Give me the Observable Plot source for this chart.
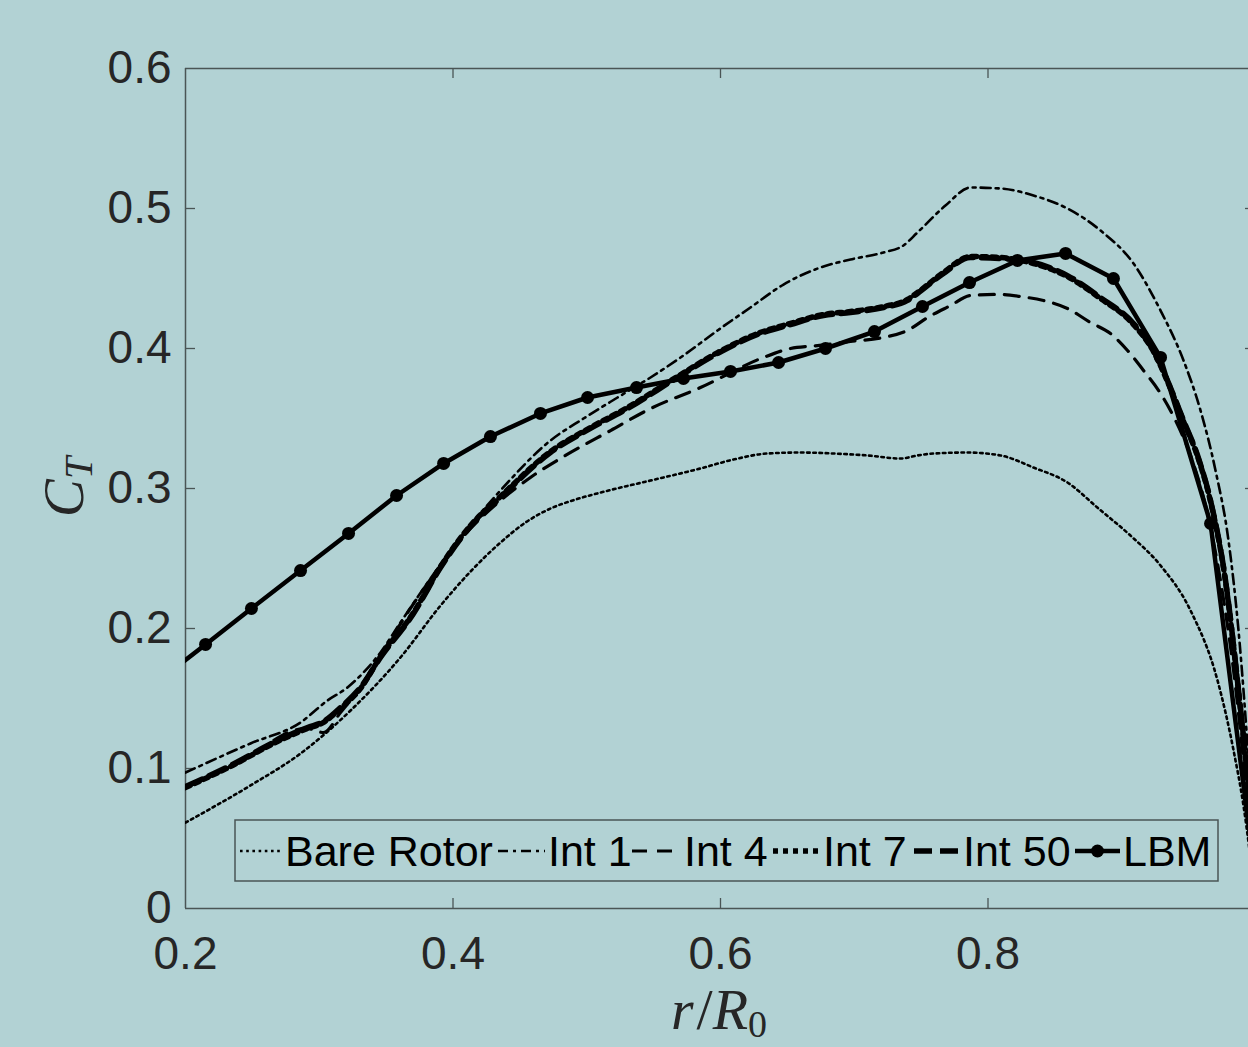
<!DOCTYPE html>
<html><head><meta charset="utf-8">
<script src="https://cdn.jsdelivr.net/npm/d3@7"></script>
<script src="https://cdn.jsdelivr.net/npm/@observablehq/plot@0.6"></script>
<style>
html,body{margin:0;padding:0;background:#b2d2d4;overflow:hidden}
#chart svg{display:block;overflow:hidden}
</style></head><body><div id="chart"></div>
<script>
// ---- data ----
const xTicks = [0.2, 0.4, 0.6, 0.8];
const yTicks = [0, 0.1, 0.2, 0.3, 0.4, 0.5, 0.6];
const seriesNames = ["Bare Rotor", "Int 1", "Int 4", "Int 7", "Int 50", "LBM"];

const bareR  = [0.2,0.2486,0.286,0.3234,0.3607,0.3907,0.4131,0.4355,0.4542,0.4729,0.4916,0.5103,0.5477,0.585,0.6097,0.6351,0.6598,0.6845,0.7099,0.7346,0.7473,0.7593,0.7847,0.8093,0.834,0.8594,0.8826,0.9065,0.929,0.9514,0.9716,0.9836,0.991,1.0];
const bareCT = [0.0614,0.0879,0.1107,0.1414,0.1793,0.2164,0.2407,0.2614,0.2757,0.2857,0.2921,0.2971,0.3057,0.3143,0.3207,0.325,0.3257,0.325,0.3236,0.3214,0.3236,0.325,0.3257,0.3236,0.315,0.3043,0.2857,0.2664,0.245,0.2129,0.1629,0.1129,0.0736,0.006];

const int1R  = [0.2,0.2486,0.286,0.3062,0.3211,0.3331,0.3458,0.3607,0.3832,0.4056,0.4355,0.4729,0.4976,0.523,0.5477,0.5723,0.5978,0.6224,0.6471,0.6725,0.6972,0.7219,0.7368,0.7473,0.7682,0.7869,0.8093,0.834,0.8594,0.8841,0.9088,0.929,0.9462,0.9589,0.9701,0.9798,0.9873,0.9948,1.0];
const int1CT = [0.0971,0.1179,0.1329,0.1486,0.1579,0.1686,0.1829,0.2043,0.2357,0.265,0.2986,0.3343,0.35,0.365,0.3793,0.395,0.4129,0.4293,0.4457,0.4571,0.4636,0.4686,0.4736,0.4829,0.5021,0.515,0.5143,0.5093,0.5,0.4843,0.4607,0.4271,0.3914,0.3557,0.3129,0.2629,0.1986,0.1057,0.027];

const int4R  = [0.2,0.2486,0.2785,0.2905,0.3032,0.3159,0.3308,0.3458,0.3682,0.3907,0.4131,0.4355,0.4579,0.4841,0.5178,0.5477,0.585,0.6321,0.6523,0.6725,0.6972,0.7219,0.7398,0.7548,0.772,0.7869,0.8071,0.8243,0.8415,0.8594,0.8766,0.8916,0.9043,0.9163,0.929,0.9402,0.9514,0.9626,0.9738,0.9836,0.9918,1.0];
const int4CT = [0.0871,0.1086,0.1264,0.1286,0.1257,0.14,0.1579,0.1807,0.2143,0.245,0.2714,0.2914,0.3079,0.3236,0.3414,0.3571,0.3721,0.3936,0.4,0.4021,0.405,0.4079,0.4129,0.4221,0.4307,0.4379,0.4386,0.4371,0.4343,0.4286,0.4186,0.4107,0.3986,0.3843,0.3679,0.3486,0.3236,0.2879,0.2343,0.17,0.0986,0.02];

const int7R  = [0.2,0.2336,0.2688,0.2912,0.3032,0.3159,0.3308,0.3458,0.3705,0.3907,0.4131,0.4355,0.4729,0.5028,0.5305,0.5678,0.5978,0.6277,0.6523,0.677,0.6972,0.7219,0.7398,0.7473,0.7667,0.7869,0.8093,0.834,0.8594,0.8841,0.9088,0.9237,0.9364,0.9462,0.9567,0.9664,0.9776,0.9865,0.9948,1.0];
const int7CT = [0.0864,0.1014,0.1193,0.1286,0.1329,0.1429,0.1571,0.18,0.2114,0.2443,0.2736,0.2943,0.3264,0.3436,0.3579,0.38,0.3971,0.4107,0.4179,0.4243,0.4264,0.43,0.435,0.44,0.4543,0.4657,0.465,0.4607,0.4514,0.4357,0.4171,0.3979,0.3714,0.3479,0.3229,0.2907,0.2336,0.1621,0.0836,0.02];

const int50R  = [0.2,0.2336,0.2688,0.2912,0.3032,0.3159,0.3308,0.3458,0.3705,0.3907,0.4131,0.4355,0.4729,0.5028,0.5305,0.5678,0.5978,0.6277,0.6523,0.677,0.6972,0.7219,0.7398,0.7473,0.7667,0.7869,0.8093,0.834,0.8594,0.8841,0.9088,0.9237,0.9364,0.9462,0.9567,0.9664,0.9776,0.9865,0.9948,1.0];
const int50CT = [0.0871,0.1021,0.12,0.1293,0.1336,0.1436,0.1579,0.1793,0.2107,0.2436,0.2729,0.2936,0.3257,0.3429,0.3571,0.3793,0.3964,0.41,0.4171,0.4236,0.4257,0.4293,0.4343,0.4393,0.4536,0.465,0.4643,0.4614,0.4521,0.4364,0.4179,0.3986,0.3721,0.3486,0.3236,0.2914,0.2343,0.1629,0.0843,0.02];

const lbmR  = [0.179,0.215,0.2493,0.286,0.3219,0.3578,0.393,0.428,0.4654,0.5006,0.5372,0.5723,0.6075,0.6434,0.6785,0.7151,0.751,0.7862,0.822,0.858,0.8938,0.929,0.9664,1.0];
const lbmCT = [0.162,0.1886,0.2143,0.2414,0.2679,0.295,0.3179,0.3371,0.3536,0.365,0.3721,0.3786,0.3836,0.39,0.4,0.4121,0.43,0.4471,0.4629,0.4679,0.45,0.3936,0.275,0.02];

// ---- styles ----
const bg = "#b2d2d4";
const axisColor = "#4a5555";
const labelColor = "#262626";
const styles = {
  "Bare Rotor": {strokeWidth: 2.6, dash: "2.6,3.6", curve: "monotone-x"},
  "Int 1":      {strokeWidth: 2.6, dash: "10,5,3,5", curve: "monotone-x"},
  "Int 4":      {strokeWidth: 3.2, dash: "15,10", curve: "monotone-x"},
  "Int 7":      {strokeWidth: 5.5, dash: "5,5", curve: "monotone-x"},
  "Int 50":     {strokeWidth: 5.5, dash: "18,8", curve: "monotone-x"},
  "LBM":        {strokeWidth: 4.5, dash: null, curve: "linear"}
};

const zip = (name, R, CT) => R.map((r, i) => ({series: name, r, ct: CT[i]}));
const seriesData = {
  "Bare Rotor": zip("Bare Rotor", bareR, bareCT),
  "Int 1": zip("Int 1", int1R, int1CT),
  "Int 4": zip("Int 4", int4R, int4CT),
  "Int 7": zip("Int 7", int7R, int7CT),
  "Int 50": zip("Int 50", int50R, int50CT),
  "LBM": zip("LBM", lbmR, lbmCT)
};

const W = 1248, H = 1047;
const mL = 185, mT = 68, mB = 139, mR = 0;
// visible x extent: the reference is cropped just before r/R0 = 1
const xMax = 0.2 + (W - mL) / 1337.5;
const tickLenX = 10 / 1337.5, tickLenY = 10 / 1400;
const fmt = d => d === 0 ? "0" : d.toFixed(1);

const lineMarks = seriesNames.map(n => Plot.line(seriesData[n], {
  x: "r", y: "ct", stroke: "black",
  strokeWidth: styles[n].strokeWidth,
  strokeDasharray: styles[n].dash || undefined,
  curve: styles[n].curve,
  strokeLinejoin: "round",
  clip: true
}));

const chart = Plot.plot({
  width: W, height: H,
  marginLeft: mL, marginRight: mR, marginTop: mT, marginBottom: mB,
  style: {background: "transparent", fontFamily: "'Liberation Sans', Arial, Helvetica, sans-serif", color: labelColor, overflow: "hidden"},
  x: {domain: [0.2, xMax]},
  y: {domain: [0, 0.6]},
  marks: [
    Plot.ruleX([0.2], {stroke: axisColor, strokeWidth: 1.5}),
    Plot.ruleY([0, 0.6], {stroke: axisColor, strokeWidth: 1.5}),
    Plot.ruleX(xTicks.slice(1), {x: d => d, y1: 0, y2: tickLenY, stroke: axisColor, strokeWidth: 1.3}),
    Plot.ruleX(xTicks.slice(1), {x: d => d, y1: 0.6, y2: 0.6 - tickLenY, stroke: axisColor, strokeWidth: 1.3}),
    Plot.ruleY(yTicks.slice(1, -1), {y: d => d, x1: 0.2, x2: 0.2 + tickLenX, stroke: axisColor, strokeWidth: 1.3}),
    Plot.ruleY(yTicks.slice(1, -1), {y: d => d, x1: 1.0, x2: 1.0 - tickLenX, stroke: axisColor, strokeWidth: 1.3}),
    Plot.axisX({ticks: xTicks, tickFormat: fmt, tickSize: 0, tickPadding: 28, fontSize: 46, fill: labelColor, label: null}),
    Plot.axisY({ticks: yTicks, tickFormat: fmt, tickSize: 0, tickPadding: 14, fontSize: 46, fill: labelColor, label: null}),
    ...lineMarks,
    Plot.dot(seriesData["LBM"], {x: "r", y: "ct", r: 6.5, fill: "black", clip: true})
  ]
});

document.getElementById("chart").appendChild(chart);
const svg = d3.select(chart);

// x-axis label r/R0
const xl = svg.append("text")
  .attr("x", 719).attr("y", 1029)
  .attr("text-anchor", "middle")
  .attr("font-family", "'Liberation Serif', 'DejaVu Serif', serif")
  .attr("font-size", 58).attr("fill", labelColor);
xl.append("tspan").attr("font-style", "italic").text("r");
xl.append("tspan").attr("dx", 3).text("/");
xl.append("tspan").attr("font-style", "italic").text("R");
xl.append("tspan").attr("font-size", 38).attr("dy", 8).text("0");

// y-axis label C_T
const yl = svg.append("text")
  .attr("transform", "translate(83,487) rotate(-90)")
  .attr("text-anchor", "middle")
  .attr("font-family", "'Liberation Serif', 'DejaVu Serif', serif")
  .attr("font-size", 57).attr("fill", labelColor);
yl.append("tspan").attr("font-style", "italic").text("C");
yl.append("tspan").attr("font-style", "italic").attr("font-size", 40).attr("dy", 9).text("T");

// legend
const lg = svg.append("g").attr("text-anchor", "start");
lg.append("rect").attr("x", 235).attr("y", 820).attr("width", 983).attr("height", 61)
  .attr("fill", bg).attr("stroke", axisColor).attr("stroke-width", 1.5);
const legendItems = [
  {name: "Bare Rotor", x1: 240, x2: 282, tx: 285},
  {name: "Int 1", x1: 498, x2: 545, tx: 548},
  {name: "Int 4", x1: 632, x2: 681, tx: 684},
  {name: "Int 7", x1: 773, x2: 820, tx: 823},
  {name: "Int 50", x1: 914, x2: 960, tx: 963},
  {name: "LBM", x1: 1075, x2: 1120, tx: 1123}
];
legendItems.forEach(it => {
  const s = styles[it.name];
  lg.append("line").attr("x1", it.x1).attr("x2", it.x2).attr("y1", 851).attr("y2", 851)
    .attr("stroke", "black").attr("stroke-width", s.strokeWidth)
    .attr("stroke-dasharray", s.dash);
  if (it.name === "LBM") {
    lg.append("circle").attr("cx", (it.x1 + it.x2) / 2).attr("cy", 851).attr("r", 6.5).attr("fill", "black");
  }
  lg.append("text").attr("x", it.tx).attr("y", 866).attr("text-anchor", "start")
    .attr("font-family", "'Liberation Sans', Arial, Helvetica, sans-serif")
    .attr("font-size", 43).attr("fill", "black").text(it.name);
});
</script>
</body></html>
